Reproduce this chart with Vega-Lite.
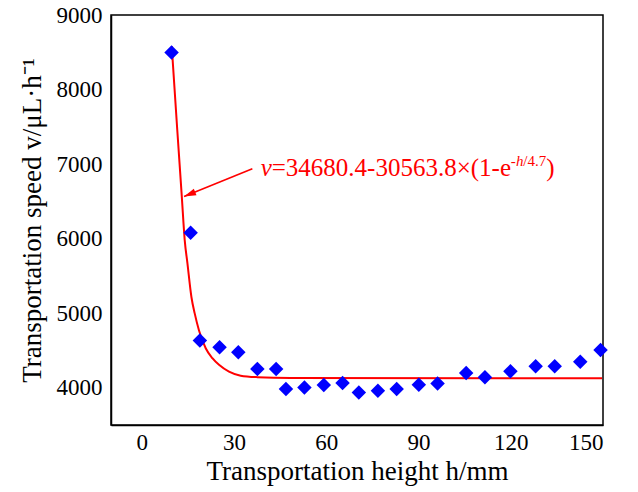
{
  "$schema": "https://vega.github.io/schema/vega-lite/v6.json",
  "width": 492,
  "height": 410,
  "autosize": "none",
  "padding": {"left": 111, "top": 15, "right": 35, "bottom": 67},
  "background": "white",
  "config": {
    "view": {"stroke": "black", "strokeWidth": 1.5},
    "font": "Liberation Serif",
    "axis": {
      "grid": false,
      "domainColor": "black",
      "domainWidth": 1.5,
      "tickColor": "black",
      "tickWidth": 1.8,
      "labelFont": "Liberation Serif",
      "labelFontSize": 23,
      "labelColor": "black",
      "titleFont": "Liberation Serif",
      "titleFontSize": 27,
      "titleFontWeight": "normal",
      "titleColor": "black"
    }
  },
  "resolve": {"axis": {"x": "independent", "y": "independent"}},
  "datasets": {
    "points": [
      {"h": 9.7, "v": 8497}, {"h": 15.9, "v": 6080}, {"h": 18.9, "v": 4633}, {"h": 25.3, "v": 4543},
      {"h": 31.4, "v": 4476}, {"h": 37.6, "v": 4252}, {"h": 43.7, "v": 4252}, {"h": 46.9, "v": 3982},
      {"h": 52.9, "v": 4004}, {"h": 59.2, "v": 4036}, {"h": 65.3, "v": 4062}, {"h": 70.6, "v": 3937},
      {"h": 76.8, "v": 3960}, {"h": 82.9, "v": 3982}, {"h": 90.1, "v": 4040}, {"h": 96.2, "v": 4058},
      {"h": 105.5, "v": 4197}, {"h": 111.6, "v": 4139}, {"h": 119.9, "v": 4220}, {"h": 128.1, "v": 4287},
      {"h": 134.3, "v": 4287}, {"h": 142.6, "v": 4350}, {"h": 149.2, "v": 4507}
    ],
    "curve": [
      {"h": 9.75, "v": 8582}, {"h": 11.54, "v": 7464}, {"h": 13.03, "v": 6561}, {"h": 13.97, "v": 5981},
      {"h": 14.85, "v": 5671}, {"h": 16.15, "v": 5217}, {"h": 17.22, "v": 4997}, {"h": 18.62, "v": 4768},
      {"h": 20.8, "v": 4530}, {"h": 22.97, "v": 4396}, {"h": 25.12, "v": 4307}, {"h": 28.37, "v": 4216},
      {"h": 32.17, "v": 4162}, {"h": 37.6, "v": 4142}, {"h": 48.42, "v": 4131}, {"h": 149.7, "v": 4128}
    ],
    "arrow": [
      {"h": 35.97, "v": 6938, "end": "start"},
      {"h": 13.75, "v": 6565, "end": "tip"}
    ],
    "labelMain": [
      {"h": 42.28, "v": 6844, "t": "=34680.4-30563.8×(1-e"},
      {"h": 131.54, "v": 6844, "t": ")"}
    ],
    "labelItalic": [
      {"h": 38.67, "v": 6844, "t": "v"}
    ],
    "supMain": [
      {"h": 120.04, "v": 6978, "t": "-"},
      {"h": 124.1, "v": 6978, "t": "/4.7"}
    ],
    "supItalic": [
      {"h": 121.67, "v": 6978, "t": "h"}
    ],
    "xMajor": [{"h": 0}, {"h": 30}, {"h": 60}, {"h": 90}, {"h": 120}, {"h": 150}],
    "xMinor": [{"h": 15}, {"h": 45}, {"h": 75}, {"h": 105}, {"h": 135}],
    "yMajor": [{"v": 4000}, {"v": 5000}, {"v": 6000}, {"v": 7000}, {"v": 8000}, {"v": 9000}],
    "yMinor": [{"v": 4500}, {"v": 5500}, {"v": 6500}, {"v": 7500}, {"v": 8500}]
  },
  "encoding": {
    "x": {
      "field": "h", "type": "quantitative",
      "scale": {"domain": [-10, 150], "nice": false, "zero": false},
      "axis": null
    },
    "y": {
      "field": "v", "type": "quantitative",
      "scale": {"domain": [3500, 9000], "nice": false, "zero": false},
      "axis": null
    }
  },
  "layer": [
    {
      "data": {"name": "curve"},
      "mark": {"type": "line", "color": "#ff0000", "strokeWidth": 2, "interpolate": "monotone"},
      "encoding": {
        "x": {
          "field": "h", "type": "quantitative",
          "axis": {
            "orient": "bottom",
            "title": "Transportation height h/mm",
            "values": [0, 30, 60, 90, 120, 150],
            "ticks": false,
            "labelPadding": 6,
            "titlePadding": 4
          }
        },
        "y": {
          "field": "v", "type": "quantitative",
          "axis": {
            "orient": "left",
            "title": "Transportation speed v/μL·h⁻¹",
            "values": [4000, 5000, 6000, 7000, 8000, 9000],
            "format": "d",
            "ticks": false,
            "labelPadding": 9,
            "titlePadding": 10
          }
        }
      }
    },
    {
      "data": {"name": "xMajor"},
      "mark": {"type": "rule", "color": "black", "strokeWidth": 2, "opacity": 1},
      "encoding": {
        "x": {"field": "h", "type": "quantitative", "axis": null},
        "y": {"datum": 3500, "type": "quantitative", "axis": null},
        "y2": {"datum": 3621}
      }
    },
    {
      "data": {"name": "xMinor"},
      "mark": {"type": "rule", "color": "black", "strokeWidth": 2, "opacity": 1},
      "encoding": {
        "x": {"field": "h", "type": "quantitative", "axis": null},
        "y": {"datum": 3500, "type": "quantitative", "axis": null},
        "y2": {"datum": 3574}
      }
    },
    {
      "data": {"name": "yMajor"},
      "mark": {"type": "rule", "color": "black", "strokeWidth": 2, "opacity": 1},
      "encoding": {
        "x": {"datum": -10, "type": "quantitative", "axis": null},
        "x2": {"datum": -6.75},
        "y": {"field": "v", "type": "quantitative", "axis": null}
      }
    },
    {
      "data": {"name": "yMinor"},
      "mark": {"type": "rule", "color": "black", "strokeWidth": 2, "opacity": 1},
      "encoding": {
        "x": {"datum": -10, "type": "quantitative", "axis": null},
        "x2": {"datum": -8.05},
        "y": {"field": "v", "type": "quantitative", "axis": null}
      }
    },
    {
      "data": {"name": "points"},
      "mark": {"type": "point", "shape": "diamond", "filled": true, "color": "#0000ff", "opacity": 1, "size": 210}
    },
    {
      "data": {"name": "arrow"},
      "mark": {"type": "line", "color": "#ff0000", "strokeWidth": 1.6}
    },
    {
      "data": {"name": "arrow"},
      "transform": [{"filter": "datum.end === 'tip'"}],
      "mark": {"type": "point", "shape": "M0,0L0.6,2L-0.6,2Z", "filled": true, "color": "#ff0000", "opacity": 1, "size": 144, "angle": 248}
    },
    {
      "data": {"name": "labelMain"},
      "mark": {"type": "text", "align": "left", "baseline": "alphabetic", "font": "Liberation Serif", "fontSize": 25, "color": "#ff0000"},
      "encoding": {"text": {"field": "t"}}
    },
    {
      "data": {"name": "labelItalic"},
      "mark": {"type": "text", "align": "left", "baseline": "alphabetic", "font": "Liberation Serif", "fontSize": 25, "fontStyle": "italic", "color": "#ff0000"},
      "encoding": {"text": {"field": "t"}}
    },
    {
      "data": {"name": "supMain"},
      "mark": {"type": "text", "align": "left", "baseline": "alphabetic", "font": "Liberation Serif", "fontSize": 15, "color": "#ff0000"},
      "encoding": {"text": {"field": "t"}}
    },
    {
      "data": {"name": "supItalic"},
      "mark": {"type": "text", "align": "left", "baseline": "alphabetic", "font": "Liberation Serif", "fontSize": 15, "fontStyle": "italic", "color": "#ff0000"},
      "encoding": {"text": {"field": "t"}}
    }
  ]
}
